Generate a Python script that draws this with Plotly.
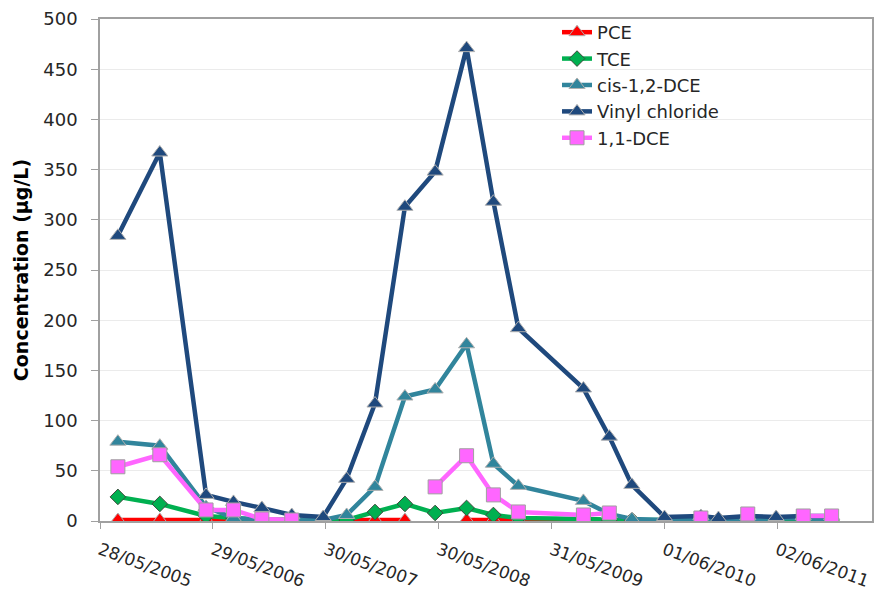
import plotly.graph_objects as go

# Sampling dates and measured concentrations (µg/L)
sample_dates = [
    "2005-07-25", "2005-12-08", "2006-05-07", "2006-08-04", "2006-11-04",
    "2007-02-09", "2007-05-22", "2007-08-06", "2007-11-06", "2008-02-11",
    "2008-05-19", "2008-08-29", "2008-11-24", "2009-02-13", "2009-09-12",
    "2009-12-05", "2010-02-16", "2010-06-02", "2010-09-28", "2010-11-24",
    "2011-02-27", "2011-05-30", "2011-08-26", "2011-11-26",
]

pce = [1, 1, 1, 1, 1, 1, 1, 1, 1, 1, None, 1, 1, 1, 1, 1, 1,
       None, None, None, None, None, None, None]
tce = [24, 17, 5, 3, 1, 1, 1, 1, 9, 17, 8, 13, 6, 3, 2, 1, 1,
       1, 1, 1, 1, 1, 1, 1]
cis_dce = [79, 75, 14, 3, 1, 1, 1, 6, 34, 124, 131, 176, 57, 35, 20, 7, 2,
           1, 1, 1, 1, 3, 2, 2]
vinyl_chloride = [284, 367, 26, 19, 13, 6, 4, 42, 117, 313, 348, 471, 318, 192,
                  132, 84, 36, 4, 5, 3, 5, 4, 5, 5]
dce_11 = [54, 66, 11, 11, 2, 1, None, None, None, None, 34, 65, 26, 9, 6, 8,
          None, None, 3, None, 7, None, 5, 5]

tick_dates = ["2005-05-28", "2006-05-29", "2007-05-30", "2008-05-30",
              "2009-05-31", "2010-06-01", "2011-06-02"]
tick_labels = ["28/05/2005", "29/05/2006", "30/05/2007", "30/05/2008",
               "31/05/2009", "01/06/2010", "02/06/2011"]
y_ticks = list(range(0, 501, 50))

FONT = "DejaVu Sans"

series = [
    ("PCE", pce, "#FF0000", "triangle-up", 14, "#B0B0B0"),
    ("TCE", tce, "#00B050", "diamond", 12, "#3C4A3C"),
    ("cis-1,2-DCE", cis_dce, "#31859C", "triangle-up", 14, "#B0B0B0"),
    ("Vinyl chloride", vinyl_chloride, "#1F497D", "triangle-up", 14, "#B0B0B0"),
    ("1,1-DCE", dce_11, "#FF66FF", "square", 14, "#A0A0A0"),
]

fig = go.Figure()
for name, values, color, symbol, size, edge in series:
    fig.add_trace(go.Scatter(
        x=sample_dates, y=values, name=name, mode="lines+markers",
        connectgaps=False,
        line=dict(color=color, width=4.5),
        marker=dict(symbol=symbol, size=size, color=color,
                    line=dict(color=edge, width=1)),
    ))

fig.update_layout(
    width=875, height=592,
    margin=dict(l=100, r=3, t=19, b=71),
    paper_bgcolor="white", plot_bgcolor="white",
    font=dict(family=FONT, size=17, color="#262626"),
    showlegend=True,
    legend=dict(
        x=0.592, y=1.01, xanchor="left", yanchor="top",
        bgcolor="rgba(0,0,0,0)", borderwidth=0,
        font=dict(family=FONT, size=18, color="#262626"),
        tracegroupgap=0,
    ),
)

fig.update_xaxes(
    type="date",
    range=["2005-05-28", "2012-04-05"],
    tickmode="array", tickvals=tick_dates, ticktext=tick_labels,
    tickangle=20,
    ticks="outside", ticklen=6, tickcolor="#A0A0A0",
    tickfont=dict(family=FONT, size=17, color="#262626"),
    ticklabelstandoff=5,
    showline=True, linecolor="#A0A0A0", linewidth=1.5, mirror=True,
    showgrid=False, zeroline=False,
    automargin=False,
)

fig.update_yaxes(
    range=[0, 500],
    tickmode="array", tickvals=y_ticks,
    ticks="outside", ticklen=7, tickcolor="#A0A0A0",
    tickfont=dict(family=FONT, size=18, color="#262626"),
    ticklabelstandoff=10,
    showline=True, linecolor="#A0A0A0", linewidth=1.5, mirror=True,
    showgrid=True, gridcolor="#EBEBEB", gridwidth=1,
    zeroline=False,
    automargin=False,
    title=dict(text="<b>Concentration (µg/L)</b>",
               font=dict(family=FONT, size=19, color="#000000"),
               standoff=10),
)

fig.write_html("out.html")
